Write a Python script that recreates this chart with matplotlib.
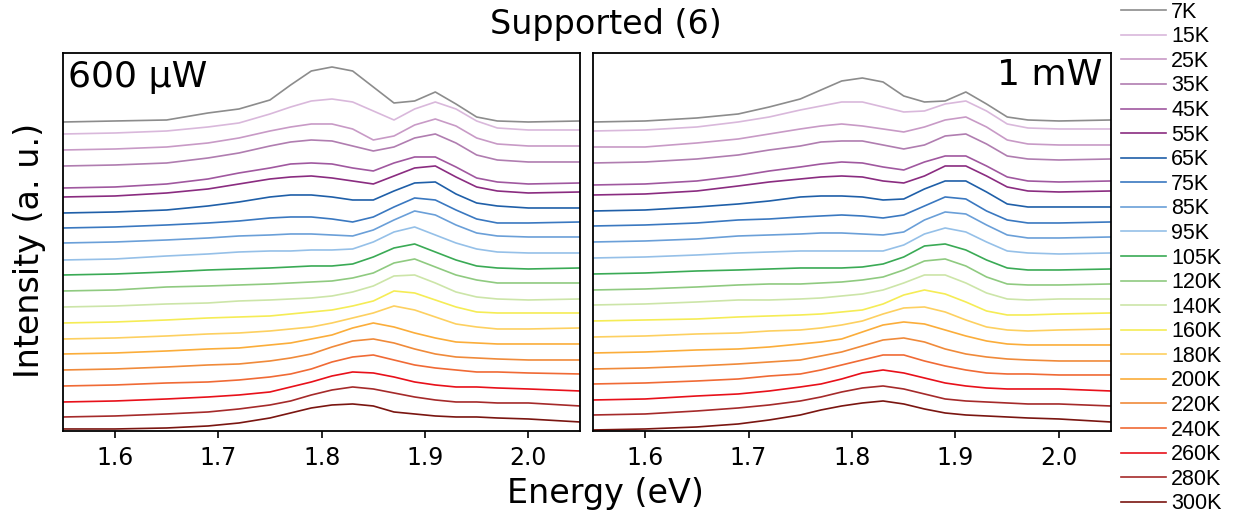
import matplotlib
matplotlib.use("Agg")
import matplotlib.pyplot as plt

energy = [1.55, 1.60, 1.65, 1.69, 1.72, 1.75, 1.77, 1.79, 1.81, 1.83,
          1.85, 1.87, 1.89, 1.91, 1.93, 1.95, 1.97, 2.00, 2.05]

temps = ["7K", "15K", "25K", "35K", "45K", "55K", "65K", "75K", "85K", "95K",
         "105K", "120K", "140K", "160K", "180K", "200K", "220K", "240K",
         "260K", "280K", "300K"]

colors = ["#8c8c8c", "#d9b8db", "#c89ac6", "#b07db0", "#a0589f", "#8a2c80",
          "#1f5fa8", "#3a78c0", "#6a9fd8", "#95c0e8", "#3aaa55", "#8fca80",
          "#cce5a8", "#f5ec55", "#fdd060", "#fbad3a", "#f08a3a", "#f06a35",
          "#e8101a", "#a52a2a", "#7a1510"]

# stacked intensity (a. u., offset included), one row per temperature
spec_600uW = [
    [309, 310, 311, 318, 322, 331, 346, 360, 364, 360, 344, 328, 330, 339, 327, 314, 310, 309, 310],
    [297, 298, 300, 304, 308, 317, 324, 330, 332, 329, 320, 311, 322, 329, 322, 310, 303, 301, 301],
    [281, 282, 284, 288, 293, 300, 304, 307, 307, 302, 291, 295, 306, 312, 305, 293, 287, 285, 285],
    [265, 266, 268, 273, 278, 285, 289, 291, 290, 285, 280, 284, 293, 297, 288, 276, 271, 269, 269],
    [243, 244, 247, 252, 258, 263, 267, 268, 267, 263, 260, 268, 274, 274, 264, 253, 249, 247, 248],
    [234, 235, 238, 242, 247, 252, 254, 255, 253, 250, 247, 255, 263, 265, 254, 244, 240, 238, 239],
    [218, 219, 221, 225, 229, 234, 236, 236, 234, 231, 231, 240, 248, 249, 237, 228, 225, 223, 223],
    [203, 204, 206, 208, 210, 213, 214, 214, 212, 209, 214, 224, 233, 231, 221, 212, 208, 208, 209],
    [188, 189, 191, 193, 195, 196, 197, 197, 196, 195, 201, 211, 220, 216, 206, 198, 195, 194, 194],
    [171, 172, 175, 177, 179, 180, 180, 181, 181, 182, 189, 199, 204, 196, 188, 182, 179, 178, 178],
    [156, 157, 159, 161, 162, 163, 164, 165, 165, 167, 174, 183, 187, 179, 171, 165, 163, 162, 163],
    [140, 141, 144, 145, 146, 147, 148, 149, 150, 153, 158, 168, 172, 164, 156, 151, 148, 148, 148],
    [124, 125, 127, 128, 130, 131, 132, 133, 135, 139, 145, 155, 156, 148, 139, 134, 132, 131, 132],
    [108, 109, 111, 113, 114, 115, 117, 119, 121, 125, 130, 140, 138, 131, 124, 119, 118, 118, 118],
    [92, 93, 95, 97, 98, 100, 102, 104, 108, 113, 118, 125, 121, 114, 107, 104, 102, 102, 103],
    [77, 78, 80, 82, 83, 86, 88, 92, 96, 103, 108, 104, 98, 93, 89, 88, 87, 87, 87],
    [61, 62, 64, 66, 67, 70, 73, 77, 84, 90, 92, 88, 82, 77, 74, 73, 72, 71, 71],
    [45, 46, 48, 49, 51, 54, 57, 62, 69, 74, 76, 71, 66, 63, 61, 59, 59, 58, 57],
    [29, 30, 32, 34, 36, 39, 44, 49, 55, 59, 58, 54, 49, 46, 44, 44, 43, 42, 40],
    [14, 15, 17, 19, 22, 26, 30, 36, 41, 44, 42, 38, 34, 31, 29, 29, 28, 28, 25],
    [2, 2, 3, 5, 8, 13, 18, 23, 26, 27, 25, 19, 17, 15, 14, 14, 13, 12, 9],
]

spec_1mW = [
    [309, 310, 313, 317, 324, 332, 341, 350, 353, 349, 335, 329, 330, 339, 327, 314, 311, 310, 311],
    [300, 301, 304, 309, 314, 321, 325, 329, 329, 324, 319, 320, 327, 330, 320, 307, 303, 302, 302],
    [284, 284, 288, 292, 297, 302, 305, 307, 305, 302, 299, 304, 311, 314, 304, 291, 287, 286, 286],
    [268, 269, 272, 276, 281, 285, 289, 290, 290, 286, 282, 286, 295, 297, 287, 275, 272, 271, 272],
    [246, 247, 250, 255, 260, 264, 267, 269, 268, 264, 261, 269, 275, 275, 265, 254, 250, 249, 250],
    [236, 237, 240, 245, 249, 252, 254, 255, 254, 250, 248, 255, 265, 265, 255, 244, 240, 239, 240],
    [220, 221, 224, 227, 230, 234, 235, 235, 234, 231, 232, 242, 250, 250, 239, 227, 224, 224, 224],
    [205, 206, 208, 211, 212, 214, 215, 216, 215, 213, 216, 225, 234, 232, 220, 211, 208, 208, 209],
    [189, 190, 192, 195, 196, 197, 198, 198, 197, 196, 199, 211, 219, 217, 206, 196, 193, 193, 194],
    [173, 174, 176, 178, 179, 180, 180, 180, 180, 180, 186, 197, 203, 199, 189, 180, 178, 177, 178],
    [157, 158, 160, 161, 162, 163, 163, 163, 164, 167, 174, 185, 187, 181, 171, 163, 161, 161, 162],
    [141, 142, 144, 146, 147, 147, 148, 149, 151, 154, 161, 170, 172, 165, 154, 147, 146, 146, 147],
    [126, 127, 129, 131, 131, 132, 133, 135, 137, 141, 148, 156, 156, 148, 138, 132, 131, 132, 132],
    [110, 111, 112, 114, 115, 116, 117, 119, 121, 127, 136, 141, 137, 129, 120, 116, 116, 117, 118],
    [94, 95, 97, 98, 100, 101, 103, 106, 110, 117, 123, 124, 119, 111, 104, 101, 100, 101, 102],
    [78, 79, 81, 82, 84, 87, 89, 92, 99, 106, 109, 107, 101, 95, 90, 87, 86, 86, 86],
    [62, 63, 65, 67, 69, 71, 75, 79, 85, 91, 93, 89, 82, 77, 74, 72, 71, 70, 70],
    [47, 48, 50, 52, 55, 57, 61, 66, 71, 76, 76, 70, 65, 61, 58, 57, 57, 56, 56],
    [31, 32, 35, 37, 40, 44, 47, 52, 58, 61, 58, 53, 48, 45, 43, 42, 42, 42, 40],
    [16, 17, 20, 23, 26, 30, 34, 39, 43, 45, 42, 37, 32, 30, 29, 28, 27, 27, 25],
    [1, 2, 4, 7, 11, 16, 21, 25, 28, 30, 27, 22, 18, 16, 15, 14, 13, 12, 9],
]

fig = plt.figure(figsize=(12.34, 5.19), dpi=100)
ax1 = fig.add_axes([0.0513, 0.1696, 0.4187, 0.7283])
ax2 = fig.add_axes([0.4808, 0.1696, 0.4193, 0.7283])

for ax, spec in [(ax1, spec_600uW), (ax2, spec_1mW)]:
    for T, c, y in zip(temps, colors, spec):
        ax.plot(energy, y, color=c, lw=1.2, label=T)
    ax.set_xlim(1.55, 2.05)
    ax.set_ylim(0, 378)
    ax.set_yticks([])
    ax.set_xticks([1.6, 1.7, 1.8, 1.9, 2.0])
    ax.tick_params(axis="x", direction="out", length=5, width=1.2,
                   labelsize=17, pad=5.5)
    for s in ax.spines.values():
        s.set_linewidth(1.3)

ax1.text(0.009, 0.909, "600 \u00b5W", transform=ax1.transAxes,
         fontsize=26, va="baseline", ha="left")
ax2.text(0.984, 0.914, "1 mW", transform=ax2.transAxes,
         fontsize=26, va="baseline", ha="right")

fig.text(0.491, 0.952, "Supported (6)", fontsize=24, ha="center", va="center")
fig.text(0.491, 0.05, "Energy (eV)", fontsize=24, ha="center", va="center")
fig.text(0.0243, 0.518, "Intensity (a. u.)", fontsize=24, rotation=90,
         ha="center", va="center")

# legend sits outside the panels and runs off the right edge, as in the source
handles, labels = ax1.get_legend_handles_labels()
fig.legend(handles, labels, loc="upper left",
           bbox_to_anchor=(1121 / 1234, 0.9966), frameon=False,
           prop={"family": "Liberation Sans", "size": 15.5},
           handlelength=2.1, handletextpad=0.23, labelspacing=0.166,
           borderpad=0, borderaxespad=0)

fig.savefig("out.png", dpi=100)
